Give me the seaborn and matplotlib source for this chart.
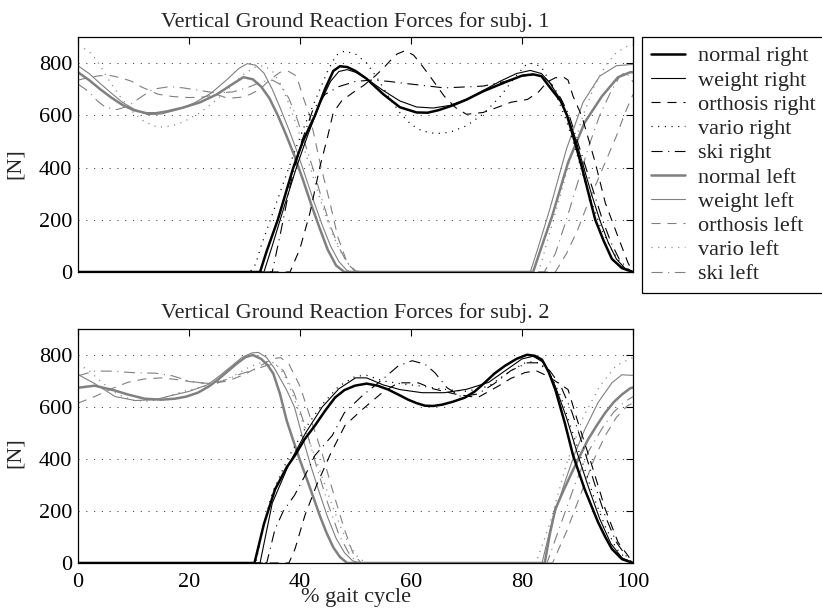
import matplotlib
matplotlib.use("Agg")
import matplotlib.pyplot as plt
from matplotlib.lines import Line2D
import seaborn as sns

# ---------------- data: subject 1 (x = % gait cycle, y = force [N]) ----------------
S1_NORMAL_R_X = [0, 32.8, 34, 36, 38.8, 40.5, 42.7, 44.5, 46, 47.2, 48.5, 50, 52, 55, 58, 61, 63, 65,
                 67.5, 70, 73, 77, 80, 82, 83.5, 85, 87, 88.1, 89.5, 90.8, 92, 93.2, 94.7, 96.2, 98, 100]
S1_NORMAL_R_Y = [0, 0, 80, 200, 400, 500, 600, 700, 770, 788, 785, 770, 740, 681, 631, 611, 610, 620,
                 638, 660, 692, 727, 752, 757, 750, 708, 654, 600, 500, 400, 300, 200, 120, 50, 15, 0]

S1_WEIGHT_R_X = [0, 33.5, 35, 37, 39.5, 41.5, 43.5, 45.5, 47, 48.5, 50, 52, 55, 58, 61, 64, 67, 70, 73,
                 76, 79, 81.5, 83.5, 85, 86.5, 88, 89.5, 91, 92.5, 94, 95.5, 97, 98.5, 100]
S1_WEIGHT_R_Y = [0, 0, 100, 240, 410, 530, 640, 730, 768, 775, 765, 740, 695, 655, 632, 628, 638, 662, 695,
                 730, 760, 772, 760, 725, 675, 610, 520, 410, 300, 200, 115, 50, 15, 0]

S1_ORTHOSIS_R_X = [0, 38.2, 40, 41.8, 43.6, 45, 46, 47.5, 49.4, 51.5, 53.5, 55, 56.2, 57.5, 59, 60.5, 62,
                   63.4, 66, 68, 70, 73, 75.5, 78, 81, 83, 84.5, 86, 87.5, 88.3, 89.2, 90.8, 93.2, 95,
                   97.3, 99.1, 100]
S1_ORTHOSIS_R_Y = [0, 0, 90, 227, 404, 520, 611, 655, 685, 715, 750, 780, 808, 835, 848, 830, 790,
                   750, 673, 630, 604, 611, 630, 650, 661, 690, 727, 744, 746, 735, 673, 596, 419, 265,
                   135, 35, 0]

S1_VARIO_R_X = [0, 31, 32, 33, 35, 37, 39, 41, 43, 45, 46.5, 48, 50, 52, 54, 56, 58, 60, 62, 64.5, 67,
                70, 73, 76, 78.5, 80.5, 82, 83.5, 85, 86.5, 88, 89.5, 91, 92.5, 94, 96, 98, 100]
S1_VARIO_R_Y = [0, 0, 30, 100, 220, 340, 460, 570, 670, 770, 830, 846, 835, 800, 740, 670, 610, 565, 540,
                530, 535, 560, 605, 670, 740, 790, 800, 785, 730, 660, 580, 480, 370, 270, 180, 90, 25, 0]

S1_SKI_R_X = [0, 35, 36.5, 38.2, 40.3, 42.3, 44.5, 47, 50, 53, 56, 59, 62, 66, 69, 73, 77, 80, 82.5, 84,
              85.5, 87, 88.5, 90, 91.5, 93, 94.5, 96, 97.5, 99, 100]
S1_SKI_R_Y = [0, 0, 150, 330, 500, 620, 680, 710, 730, 735, 730, 722, 715, 705, 708, 712, 730, 750, 757,
              745, 715, 665, 600, 500, 400, 300, 200, 115, 50, 12, 0]

S1_NORMAL_L_X = [0, 2, 4, 6, 8, 10, 12.4, 14, 16, 19, 22, 25, 27.5, 29.8, 31.5, 33, 34.5, 36, 37.5, 39,
                 40.5, 42, 43.5, 45, 46.5, 48, 82, 83.5, 85.4, 88.3, 91.3, 94.4, 97.3, 99.5, 100]
S1_NORMAL_L_Y = [765, 735, 700, 668, 640, 620, 608, 608, 615, 630, 650, 680, 715, 746, 738, 710, 665, 600,
                 525, 445, 355, 260, 170, 85, 25, 0, 0, 95, 212, 419, 573, 673, 746, 765, 765]

S1_WEIGHT_L_X = [0, 2, 4, 6, 8, 10, 12.5, 15, 18, 21, 24, 27, 29, 30.5, 32, 33.5, 35, 36.5, 38, 39.5,
                 41, 42.5, 44, 45.5, 47, 48.5, 49.5, 81.5, 83, 85, 88, 91, 94, 97, 100]
S1_WEIGHT_L_Y = [790, 760, 722, 685, 650, 625, 603, 605, 622, 648, 685, 740, 780, 798, 792, 762, 700, 625,
                 545, 460, 365, 270, 180, 100, 40, 5, 0, 0, 100, 240, 470, 650, 750, 790, 795]

S1_ORTHOSIS_L_X = [0, 2, 4, 6, 8, 9.7, 11.5, 14.4, 17, 20, 22.5, 25, 27, 29.2, 31, 32.8, 34.5, 36.4,
                   37.8, 39.4, 40.5, 41.8, 43.6, 45.4, 46.8, 48.5, 50, 86, 88, 90, 92, 94.6, 97, 98.6, 100]
S1_ORTHOSIS_L_Y = [735, 745, 752, 752, 742, 730, 708, 681, 672, 668, 670, 680, 665, 669, 680, 700, 735,
                   765, 770, 750, 673, 596, 419, 265, 135, 35, 0, 0, 70, 160, 270, 400, 520, 611, 680]

S1_VARIO_L_X = [0, 1.3, 2.5, 4, 6, 8, 10, 12, 14.4, 17, 19, 22, 25, 28, 30, 32, 33.5, 35, 36.5, 38, 39.5,
                41, 42.5, 44, 45.5, 47, 48.5, 50, 51, 83, 85, 87, 89, 91, 93, 95, 97, 99, 100]
S1_VARIO_L_Y = [865, 854, 835, 790, 720, 660, 610, 575, 554, 560, 575, 610, 660, 720, 760, 785, 790, 770,
                720, 645, 555, 455, 355, 255, 165, 90, 35, 5, 0, 0, 150, 300, 460, 600, 710, 790, 840,
                865, 870]

S1_SKI_L_X = [0, 2, 3.5, 5, 7, 9, 11, 13.5, 16.5, 19, 22, 25, 28, 31, 33, 35, 36.5, 38, 39.5, 41, 42.5,
              44, 45.5, 47, 48.5, 50, 51, 84, 86, 88, 90, 92, 94, 96, 97.5, 98.5, 99.3, 100]
S1_SKI_L_Y = [720, 690, 655, 630, 622, 635, 665, 700, 710, 705, 695, 685, 690, 710, 728, 735, 718, 665,
              585, 485, 385, 275, 175, 95, 35, 5, 0, 0, 70, 200, 340, 480, 600, 690, 745, 765, 750, 728]

# ---------------- data: subject 2 ----------------
S2_NORMAL_R_X = [0, 31.8, 33.5, 35.5, 37.6, 39.1, 40.8, 42.7, 44.5, 46.3, 48, 49.9, 52, 54, 55.9, 57.7,
                 59.5, 61, 62.5, 64, 65.6, 67.5, 69.7, 71.5, 73.3, 75, 76.9, 79, 80.9, 82.3, 83.6, 84.8,
                 86, 87.7, 89.2, 91.3, 93.7, 95, 96.2, 98, 100]
S2_NORMAL_R_Y = [0, 0, 150, 283, 368, 414, 475, 529, 585, 636, 665, 682, 690, 682, 667, 648, 628, 615,
                 605, 604, 609, 620, 636, 660, 694, 728, 758, 785, 801, 797, 782, 735, 667, 540, 414, 283,
                 157, 100, 54, 15, 0]

S2_WEIGHT_R_X = [0, 32.8, 35, 38, 41, 44, 47, 50, 52, 55, 58, 62, 66, 70, 74, 77, 80, 82, 84, 86, 88,
                 90, 92, 94, 96, 98, 100]
S2_WEIGHT_R_Y = [0, 0, 230, 380, 500, 600, 670, 712, 712, 685, 667, 655, 655, 668, 695, 740, 785, 795,
                 770, 680, 560, 420, 290, 170, 75, 20, 0]

S2_ORTHOSIS_R_X = [0, 38, 39.1, 40.9, 43, 45.5, 48.1, 51.2, 54.8, 57.7, 61.3, 64, 67.9, 72, 75.7, 78,
                   80.5, 82.5, 84.1, 86, 88.3, 90.1, 92.6, 95, 97.3, 99, 100]
S2_ORTHOSIS_R_Y = [0, 0, 54, 184, 300, 420, 529, 590, 655, 693, 693, 670, 650, 636, 680, 710, 732, 740,
                   724, 700, 667, 540, 375, 207, 80, 31, 0]

S2_VARIO_R_X = [0, 32, 33.5, 35, 38, 41, 44, 47, 50, 52, 55, 58, 62, 66, 70, 74, 78, 81, 83, 85, 87,
                89, 91, 93, 95, 97, 99, 100]
S2_VARIO_R_Y = [0, 0, 150, 270, 410, 520, 610, 680, 718, 722, 700, 690, 680, 668, 660, 680, 740, 775,
                770, 730, 640, 510, 380, 250, 140, 55, 10, 0]

S2_SKI_R_X = [0, 34, 35.5, 37, 39, 41, 42.7, 45.8, 48, 51.2, 54.8, 57.7, 60.2, 62.5, 64.3, 66.5, 69, 72,
              75, 78, 81, 83, 85, 87, 89, 91, 93, 95, 97, 99, 100]
S2_SKI_R_Y = [0, 0, 130, 200, 260, 340, 414, 490, 578, 643, 705, 758, 778, 765, 732, 674, 640, 650, 690,
              740, 770, 770, 740, 680, 580, 450, 310, 180, 80, 20, 0]

S2_NORMAL_L_X = [0, 3, 6.7, 9, 12, 15, 17.5, 19.5, 21.6, 23.5, 25.2, 27, 28.8, 30.2, 31.5, 33, 34.2,
                 35.2, 36.4, 37.6, 38.8, 40, 41.2, 42.4, 43.6, 44.8, 46, 47.2, 48.5, 84.1, 85, 86, 87.5,
                 89, 90.5, 91.9, 93.5, 95, 96.5, 98, 99.5, 100]
S2_NORMAL_L_Y = [674, 682, 663, 648, 632, 628, 632, 640, 655, 678, 705, 738, 770, 792, 800, 785, 760,
                 728, 650, 548, 470, 395, 325, 253, 180, 115, 60, 23, 0, 0, 110, 207, 280, 349, 415, 475,
                 530, 578, 618, 648, 672, 675]

S2_WEIGHT_L_X = [0, 3, 6.7, 10.3, 13.9, 17, 20, 23.4, 25.5, 27.7, 29.5, 31.3, 32.5, 34, 35.5, 37.6, 39,
                 40.5, 42, 43.5, 45, 46.5, 48, 49.5, 51, 83.6, 85.4, 87.7, 89.5, 91.3, 93.7, 96.2, 98,
                 99.5, 100]
S2_WEIGHT_L_Y = [725, 690, 640, 625, 628, 645, 660, 686, 720, 758, 790, 808, 810, 790, 745, 665, 600,
                 480, 370, 270, 175, 95, 40, 8, 0, 0, 157, 310, 420, 513, 617, 693, 724, 722, 722]

S2_ORTHOSIS_L_X = [0, 3, 6, 9, 12, 15, 18, 21, 24, 27, 30, 33, 35, 36.5, 38, 40, 42, 44, 46, 48, 49.5,
                   51, 85.5, 88, 90.5, 93, 95, 97, 99, 100]
S2_ORTHOSIS_L_Y = [615, 640, 670, 695, 708, 712, 705, 695, 690, 700, 725, 760, 785, 790, 765, 680, 550,
                   420, 270, 130, 40, 0, 0, 120, 260, 400, 490, 560, 605, 615]

S2_VARIO_L_X = [0, 2, 4, 7, 10, 13, 16, 19, 22, 25, 28, 31, 33.5, 35.5, 37, 38.5, 40, 41.5, 43, 44.5,
                46, 47.5, 49, 50.5, 52, 82.5, 85, 88, 91, 94, 97, 100]
S2_VARIO_L_Y = [765, 740, 700, 650, 625, 622, 640, 660, 675, 690, 720, 755, 775, 770, 730, 660, 570, 480,
                390, 300, 210, 130, 65, 20, 0, 0, 150, 380, 560, 680, 760, 790]

S2_SKI_L_X = [0, 3, 6, 10, 14, 17, 20, 23, 26, 29, 32, 34, 35.5, 37, 39, 41, 43, 45, 47, 49, 50.5, 84.5,
              87, 89.5, 92, 94.5, 96.5, 98.5, 100]
S2_SKI_L_Y = [720, 738, 738, 732, 730, 720, 700, 690, 700, 725, 745, 760, 765, 740, 650, 520, 370, 230,
              110, 30, 0, 0, 150, 300, 430, 520, 580, 620, 640]

LABELS = ["normal right", "weight right", "orthosis right", "vario right", "ski right",
          "normal left", "weight left", "orthosis left", "vario left", "ski left"]

SUBJ1 = [(S1_NORMAL_R_X, S1_NORMAL_R_Y), (S1_WEIGHT_R_X, S1_WEIGHT_R_Y),
         (S1_ORTHOSIS_R_X, S1_ORTHOSIS_R_Y), (S1_VARIO_R_X, S1_VARIO_R_Y), (S1_SKI_R_X, S1_SKI_R_Y),
         (S1_NORMAL_L_X, S1_NORMAL_L_Y), (S1_WEIGHT_L_X, S1_WEIGHT_L_Y),
         (S1_ORTHOSIS_L_X, S1_ORTHOSIS_L_Y), (S1_VARIO_L_X, S1_VARIO_L_Y), (S1_SKI_L_X, S1_SKI_L_Y)]
SUBJ2 = [(S2_NORMAL_R_X, S2_NORMAL_R_Y), (S2_WEIGHT_R_X, S2_WEIGHT_R_Y),
         (S2_ORTHOSIS_R_X, S2_ORTHOSIS_R_Y), (S2_VARIO_R_X, S2_VARIO_R_Y), (S2_SKI_R_X, S2_SKI_R_Y),
         (S2_NORMAL_L_X, S2_NORMAL_L_Y), (S2_WEIGHT_L_X, S2_WEIGHT_L_Y),
         (S2_ORTHOSIS_L_X, S2_ORTHOSIS_L_Y), (S2_VARIO_L_X, S2_VARIO_L_Y), (S2_SKI_L_X, S2_SKI_L_Y)]

X_TICKS = [0, 20, 40, 60, 80, 100]
Y_TICKS = [0, 200, 400, 600, 800]

# ---------------- styling ----------------
sns.set_theme(style="white")
plt.rcParams.update({
    "font.family": ["Liberation Serif", "DejaVu Serif"],
    "lines.scale_dashes": False,
    "axes.edgecolor": "black",
    "axes.linewidth": 0.9,
})

DASHED = (0, (6.5, 5.0))
DOTTED = (0, (0.8, 4.0))
DASHDOT = (0, (8.0, 4.0, 0.8, 4.0))
GREY = "0.5"
STYLES = [
    dict(color="black", linewidth=1.8, linestyle="-"),
    dict(color="black", linewidth=0.8, linestyle="-"),
    dict(color="black", linewidth=0.8, linestyle=DASHED),
    dict(color="black", linewidth=0.9, linestyle=DOTTED),
    dict(color="black", linewidth=0.8, linestyle=DASHDOT),
    dict(color=GREY, linewidth=1.8, linestyle="-"),
    dict(color=GREY, linewidth=0.8, linestyle="-"),
    dict(color=GREY, linewidth=0.8, linestyle=DASHED),
    dict(color=GREY, linewidth=0.9, linestyle=DOTTED),
    dict(color=GREY, linewidth=0.8, linestyle=DASHDOT),
]

FS = 16
W, H = 822, 608
fig = plt.figure(figsize=(W / 100, H / 100), dpi=100)
ax1 = fig.add_axes([78 / W, 1 - 272 / H, 555 / W, 235 / H])
ax2 = fig.add_axes([78 / W, 1 - 563 / H, 555 / W, 234 / H])


def draw_panel(ax, curves, title, title_pad):
    ax.set_axisbelow(True)
    ax.yaxis.grid(True, linestyle=(0, (0.8, 4.8)), color="0.25", linewidth=0.7)
    ax.xaxis.grid(False)
    # left-foot curves first, right-foot curves on top
    order = list(range(5, 10)) + list(range(0, 5))
    for i in order:
        xs, ys = curves[i]
        sns.lineplot(x=xs, y=ys, ax=ax, estimator=None, sort=False, legend=False, **STYLES[i])
    ax.set_xlim(0, 100)
    ax.set_ylim(0, 900)
    ax.set_xticks(X_TICKS)
    ax.set_yticks(Y_TICKS)
    ax.tick_params(direction="in", top=True, right=True, length=5, width=0.8,
                   labelsize=FS, colors="black")
    ax.tick_params(axis="y", pad=4)
    ax.tick_params(axis="x", pad=7)
    for s in ax.spines.values():
        s.set_visible(True)
        s.set_color("black")
        s.set_linewidth(0.9)
    ax.set_title(title, fontsize=FS, pad=title_pad)
    ax.set_ylabel("[N]", fontsize=FS)
    ax.set_xlabel("")


draw_panel(ax1, SUBJ1, "Vertical Ground Reaction Forces for subj. 1", 7)
draw_panel(ax2, SUBJ2, "Vertical Ground Reaction Forces for subj. 2", 8)
ax1.tick_params(axis="x", labelbottom=False)
ax1.yaxis.set_label_coords(-0.095, 0.46)
ax2.yaxis.set_label_coords(-0.095, 0.47)
ax2.set_xlabel("% gait cycle", fontsize=FS)
ax2.xaxis.set_label_coords(0.5, -0.105)

handles = [Line2D([], [], **st) for st in STYLES]
leg = fig.legend(handles, LABELS, loc="upper left", bbox_to_anchor=(642 / W, 1 - 37 / H),
                 bbox_transform=fig.transFigure, frameon=True, fancybox=False, shadow=False,
                 edgecolor="black", framealpha=1, fontsize=FS, handlelength=1.55,
                 handletextpad=0.55, labelspacing=0.165, borderpad=0.4, borderaxespad=0)
leg.get_frame().set_linewidth(0.9)

fig.savefig("out.png", dpi=100, facecolor="white")
